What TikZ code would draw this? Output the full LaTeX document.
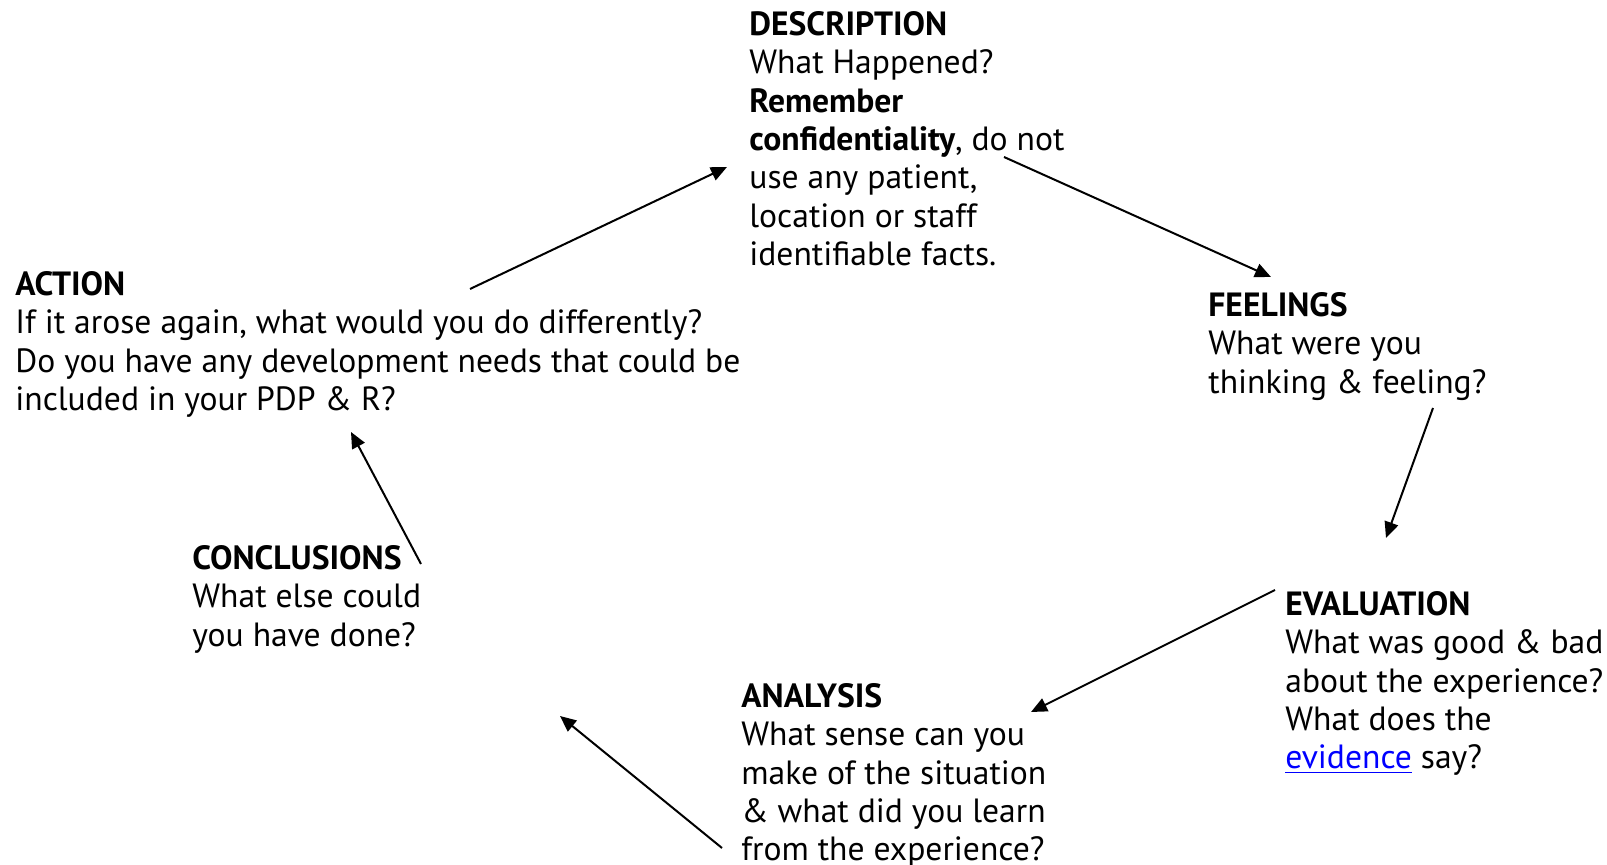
\documentclass[tikz,border=0pt]{standalone}
\usepackage{fontspec}
\setmainfont{PT Sans}
\usetikzlibrary{arrows.meta}

\begin{document}
\begin{tikzpicture}[x=0.5pt,y=-0.5pt,
  stage/.style={anchor=north west,inner sep=0pt,align=left,font=\fontsize{16.8}{19.2}\selectfont},
  flow/.style={line width=1pt,-{Triangle[length=8pt,width=7pt]}}]
\useasboundingbox (0,0) rectangle (1607,865);

\node[stage] (desc) at (749,11) {\textbf{DESCRIPTION}\\What Happened?\\\textbf{Remember}\\\textbf{confidentiality}, do not\\use any patient,\\location or staff\\identifiable facts.};

\node[stage] (feel) at (1208,292) {\textbf{FEELINGS}\\What were you\\thinking \& feeling?};

\node[stage] (eval) at (1285,591) {\textbf{EVALUATION}\\What was good \& bad\\about the experience?\\What does the\\{\color{blue}\underline{evidence}} say?};

\node[stage] (anal) at (741,683) {\textbf{ANALYSIS}\\What sense can you\\make of the situation\\\& what did you learn\\from the experience?};

\node[stage] (concl) at (192,545) {\textbf{CONCLUSIONS}\\What else could\\you have done?};

\node[stage] (act) at (15,271) {\textbf{ACTION}\\If it arose again, what would you do differently?\\Do you have any development needs that could be\\included in your PDP \& R?};

% arrow ends
\coordinate (act-out) at (470,289);
\coordinate (desc-in) at (727,167);
\coordinate (desc-out) at (1004,157);
\coordinate (feel-in) at (1271,277);
\coordinate (feel-out) at (1433,408);
\coordinate (eval-in) at (1386,538);
\coordinate (eval-out) at (1275,590);
\coordinate (anal-in) at (1031,712);
\coordinate (anal-out) at (722,848);
\coordinate (concl-in) at (560,716);
\coordinate (concl-out) at (421,564);
\coordinate (act-in) at (351,432);

\draw[flow] (act-out) -- (desc-in);
\draw[flow] (desc-out) -- (feel-in);
\draw[flow] (feel-out) -- (eval-in);
\draw[flow] (eval-out) -- (anal-in);
\draw[flow] (anal-out) -- (concl-in);
\draw[flow] (concl-out) -- (act-in);
\end{tikzpicture}
\end{document}
